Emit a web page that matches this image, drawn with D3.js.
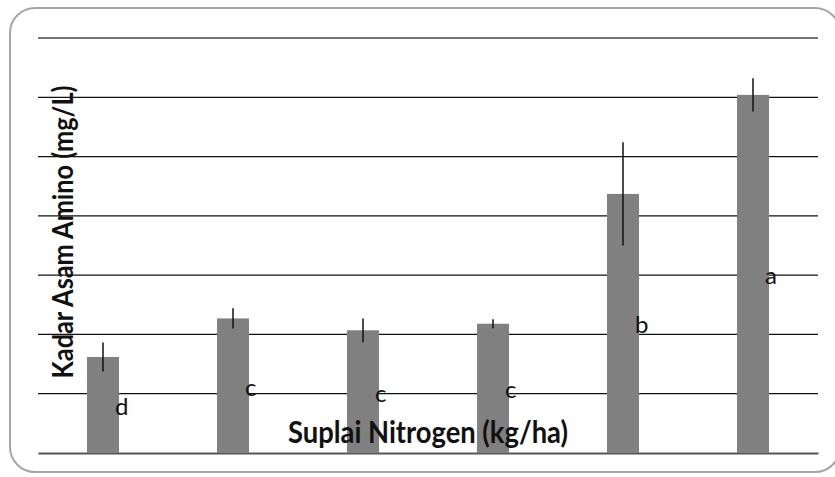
<!DOCTYPE html>
<html>
<head>
<meta charset="utf-8">
<script src="https://cdn.jsdelivr.net/npm/d3@7"></script>
<style>
  body { margin: 0; background: #fff; }
  svg { display: block; }
</style>
</head>
<body>
<div id="wrapper"></div>
<script>
// data
const categories = ["N1", "N2", "N3", "N4", "N5", "N6"]
const values = [1.62, 2.27, 2.07, 2.18, 4.37, 6.04]
const errors = [0.245, 0.17, 0.2, 0.076, 0.87, 0.28]
const letters = ["d", "c", "c", "c", "b", "a"]
const gridTicks = [0, 1, 2, 3, 4, 5, 6, 7]

const xTitle = "Suplai Nitrogen (kg/ha)"
const yTitle = "Kadar Asam Amino (mg/L)"

function drawChart() {
    const width = 835
    const height = 477
    let dimensions = {
        width: width,
        height: height,
        margin: {
            top: 38,
            right: 17,
            bottom: 24,
            left: 38,
        },
    }
    dimensions.boundedWidth = dimensions.width
        - dimensions.margin.left
        - dimensions.margin.right
    dimensions.boundedHeight = dimensions.height
        - dimensions.margin.top
        - dimensions.margin.bottom

    const wrapper = d3.select("#wrapper")
        .append("svg")
        .attr("width", dimensions.width)
        .attr("height", dimensions.height)

    // rounded frame of the chart area (runs off the right edge)
    wrapper.append("rect")
        .attr("x", 10)
        .attr("y", 8)
        .attr("width", 830)
        .attr("height", 464)
        .attr("rx", 25)
        .attr("fill", "none")
        .attr("stroke", "#a6a6a6")
        .attr("stroke-width", 2)

    const bounds = wrapper.append("g")
        .attr("transform", `translate(${dimensions.margin.left},${dimensions.margin.top})`)

    const xScaler = d3.scaleBand()
        .domain(categories)
        .range([0, dimensions.boundedWidth])
        .paddingInner(0.754)
        .paddingOuter(0.377)

    const yScaler = d3.scaleLinear()
        .domain([0, 7])
        .range([dimensions.boundedHeight, 0])

    // horizontal gridlines
    bounds.append("g")
        .selectAll("line")
        .data(gridTicks.slice(1))
        .join("line")
        .attr("x1", 0)
        .attr("x2", dimensions.boundedWidth)
        .attr("y1", d => yScaler(d))
        .attr("y2", d => yScaler(d))
        .attr("stroke", d => d == 7 ? "#444" : "#111")
        .attr("stroke-width", 1.3)

    // x axis line (no tick labels in the original)
    const xAxisGen = d3.axisBottom(xScaler).tickSize(0).tickFormat("")
    const xAxis = bounds.append("g")
        .attr("transform", `translate(0,${yScaler(0)})`)
        .call(xAxisGen)
    xAxis.select(".domain")
        .attr("stroke", "#555")
        .attr("stroke-width", 2)

    const rows = categories.map((c, i) => ({
        cat: c, value: values[i], err: errors[i], letter: letters[i]
    }))

    bounds.append("g")
        .selectAll("rect")
        .data(rows)
        .join("rect")
        .attr("x", d => xScaler(d.cat))
        .attr("y", d => yScaler(d.value))
        .attr("width", xScaler.bandwidth())
        .attr("height", d => yScaler(0) - yScaler(d.value))
        .attr("fill", "#808080")

    // error bars, no caps
    bounds.append("g")
        .selectAll("line")
        .data(rows)
        .join("line")
        .attr("x1", d => xScaler(d.cat) + xScaler.bandwidth() / 2)
        .attr("x2", d => xScaler(d.cat) + xScaler.bandwidth() / 2)
        .attr("y1", d => yScaler(d.value + d.err))
        .attr("y2", d => yScaler(d.value - d.err))
        .attr("stroke", "#111")
        .attr("stroke-width", 1.5)

    // significance letters, placed like excel "inside end/center" labels
    bounds.append("g")
        .selectAll("text")
        .data(rows)
        .join("text")
        .attr("x", d => xScaler(d.cat) + xScaler.bandwidth() - 4)
        .attr("y", d => yScaler(d.value / 2) + 10)
        .text(d => d.letter)
        .attr("font-family", "Lato, 'Open Sans', sans-serif")
        .attr("font-size", "24px")
        .attr("fill", "#111")

    // axis titles
    wrapper.append("text")
        .attr("x", 428)
        .attr("y", 443)
        .attr("text-anchor", "middle")
        .attr("font-family", "Lato, 'Open Sans', sans-serif")
        .attr("font-weight", "bold")
        .attr("font-size", "30px")
        .attr("textLength", 280)
        .attr("lengthAdjust", "spacingAndGlyphs")
        .attr("fill", "#111")
        .text(xTitle)

    wrapper.append("text")
        .attr("transform", "translate(73,232) rotate(-90)")
        .attr("text-anchor", "middle")
        .attr("font-family", "Lato, 'Open Sans', sans-serif")
        .attr("font-weight", "bold")
        .attr("font-size", "28px")
        .attr("textLength", 293)
        .attr("lengthAdjust", "spacingAndGlyphs")
        .attr("fill", "#111")
        .text(yTitle)
}

drawChart()
</script>
</body>
</html>
